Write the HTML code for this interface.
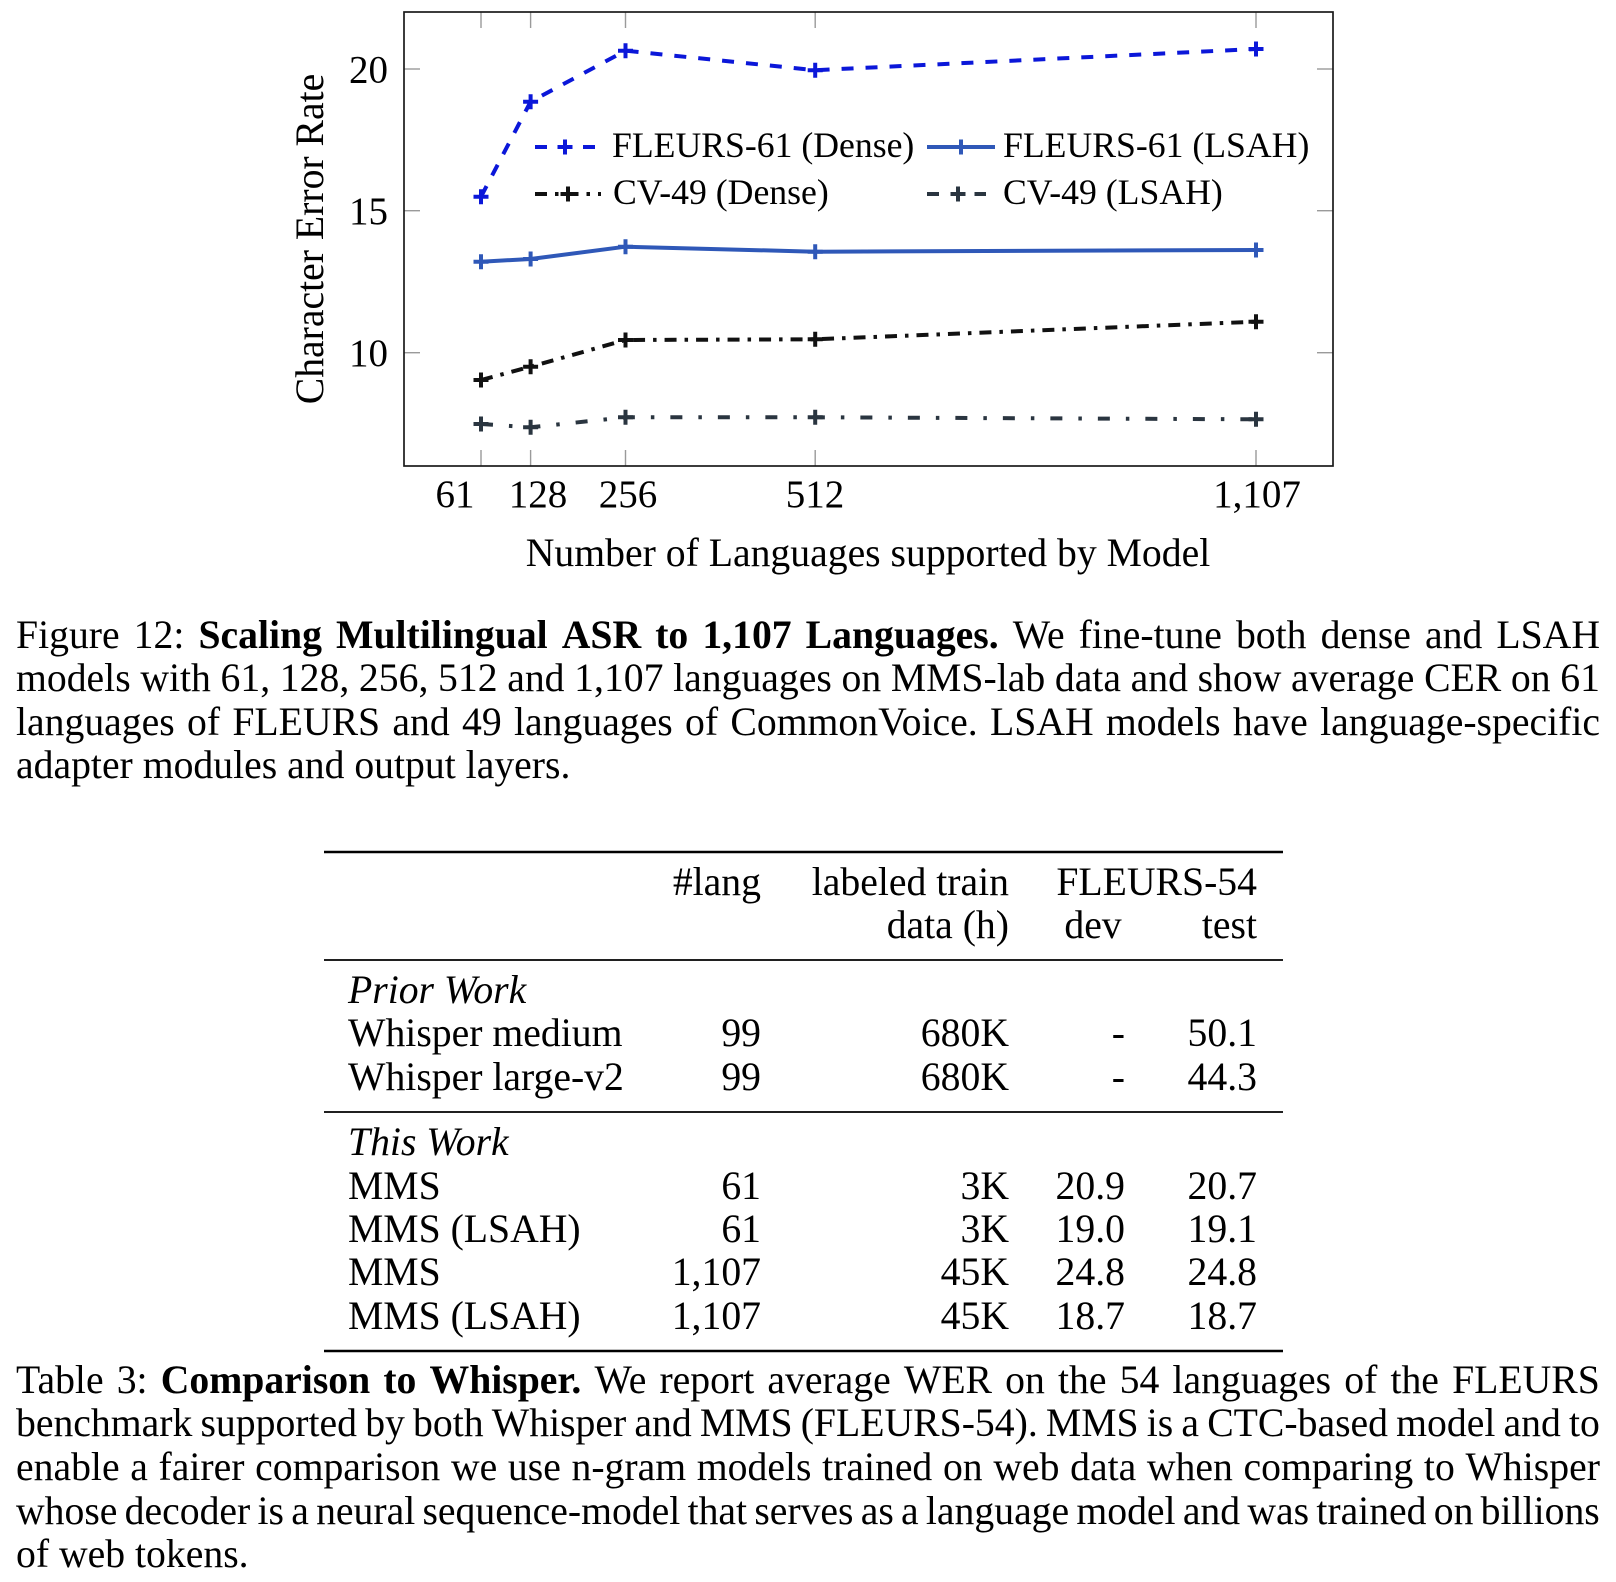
<!DOCTYPE html>
<html><head><meta charset="utf-8">
<style>
html,body{margin:0;padding:0;background:#fff;}
body{width:1616px;height:1582px;position:relative;overflow:hidden;font-family:"Liberation Serif","Times New Roman",serif;color:#000;}
svg{position:absolute;left:0;top:0;}
.j{position:absolute;left:16px;width:1584px;display:flex;justify-content:space-between;font-size:39.7px;line-height:43.6px;white-space:nowrap;}
.j b{font-weight:bold;}
.n{position:absolute;left:16px;font-size:39.7px;line-height:43.6px;white-space:nowrap;}
</style></head>
<body>
<svg width="1616" height="1582" viewBox="0 0 1616 1582" xmlns="http://www.w3.org/2000/svg" font-family="Liberation Serif, Times New Roman, serif">
  <!-- ticks -->
  <g stroke="#9a9a9a" stroke-width="1.4">
    <line x1="481" y1="466" x2="481" y2="450"/><line x1="481" y1="12" x2="481" y2="28"/>
    <line x1="530.6" y1="466" x2="530.6" y2="450"/><line x1="530.6" y1="12" x2="530.6" y2="28"/>
    <line x1="625.5" y1="466" x2="625.5" y2="450"/><line x1="625.5" y1="12" x2="625.5" y2="28"/>
    <line x1="815.2" y1="466" x2="815.2" y2="450"/><line x1="815.2" y1="12" x2="815.2" y2="28"/>
    <line x1="1256" y1="466" x2="1256" y2="450"/><line x1="1256" y1="12" x2="1256" y2="28"/>
    <line x1="404" y1="69" x2="420" y2="69"/><line x1="1333" y1="69" x2="1317" y2="69"/>
    <line x1="404" y1="210.7" x2="420" y2="210.7"/><line x1="1333" y1="210.7" x2="1317" y2="210.7"/>
    <line x1="404" y1="352.7" x2="420" y2="352.7"/><line x1="1333" y1="352.7" x2="1317" y2="352.7"/>
  </g>
  <!-- series -->
  <g fill="none" stroke-width="4" stroke-linejoin="round">
    <polyline stroke="#0b17d9" stroke-dasharray="12 12" points="481,196.7 530.6,101.7 625.5,50.7 815.2,70.2 1256,49"/>
    <polyline stroke="#2f58b8" points="481,261.7 530.6,259 625.5,246.7 815.2,251.7 1256,250"/>
    <polyline stroke="#111" stroke-dasharray="12 8 3.5 8" points="481,380 530.6,366.7 625.5,340 815.2,339.3 1256,321.7"/>
    <polyline stroke="#2a3540" stroke-dasharray="12 16 3.5 16" points="481,424 530.6,427.3 625.5,417.3 815.2,417.3 1256,419.3"/>
  </g>
  <!-- markers -->
  <g stroke-width="4" fill="none">
    <path stroke="#0b17d9" d="M473.5,196.7h15M481,189.2v15 M523.1,101.7h15M530.6,94.2v15 M618,50.7h15M625.5,43.2v15 M807.7,70.2h15M815.2,62.7v15 M1248.5,49h15M1256,41.5v15"/>
    <path stroke="#2f58b8" d="M473.5,261.7h15M481,254.2v15 M523.1,259h15M530.6,251.5v15 M618,246.7h15M625.5,239.2v15 M807.7,251.7h15M815.2,244.2v15 M1248.5,250h15M1256,242.5v15"/>
    <path stroke="#111" d="M473.5,380h15M481,372.5v15 M523.1,366.7h15M530.6,359.2v15 M618,340h15M625.5,332.5v15 M807.7,339.3h15M815.2,331.8v15 M1248.5,321.7h15M1256,314.2v15"/>
    <path stroke="#2a3540" d="M473.5,424h15M481,416.5v15 M523.1,427.3h15M530.6,419.8v15 M618,417.3h15M625.5,409.8v15 M807.7,417.3h15M815.2,409.8v15 M1248.5,419.3h15M1256,411.8v15"/>
  </g>
  <!-- legend -->
  <g fill="none" stroke-width="4">
    <line x1="535" y1="147" x2="595" y2="147" stroke="#0b17d9" stroke-dasharray="12 12"/>
    <path stroke="#0b17d9" d="M557.5,147h15M565,139.5v15"/>
    <line x1="927" y1="147" x2="995" y2="147" stroke="#2f58b8"/>
    <path stroke="#2f58b8" d="M953.5,147h15M961,139.5v15"/>
    <line x1="535" y1="194" x2="601" y2="194" stroke="#111" stroke-dasharray="12 8 3.5 8"/>
    <path stroke="#111" d="M560.5,194h15M568,186.5v15"/>
    <line x1="927" y1="194" x2="986" y2="194" stroke="#2a3540" stroke-dasharray="12 16 3.5 16"/>
    <path stroke="#2a3540" d="M950.5,194h15M958,186.5v15"/>
  </g>
  <g font-size="35.7" fill="#000">
    <text x="612" y="157">FLEURS-61 (Dense)</text>
    <text x="1003" y="157">FLEURS-61 (LSAH)</text>
    <text x="613" y="204">CV-49 (Dense)</text>
    <text x="1003" y="204">CV-49 (LSAH)</text>
  </g>
  <!-- frame -->
  <rect x="404" y="12" width="929" height="454" fill="none" stroke="#1a1a1a" stroke-width="1.7"/>
  <!-- tick labels -->
  <g font-size="39" fill="#000">
    <text x="388" y="82.5" text-anchor="end">20</text>
    <text x="388" y="224.2" text-anchor="end">15</text>
    <text x="388" y="366.2" text-anchor="end">10</text>
    <text x="455" y="507" text-anchor="middle">61</text>
    <text x="538" y="507" text-anchor="middle">128</text>
    <text x="628" y="507" text-anchor="middle">256</text>
    <text x="815" y="507" text-anchor="middle">512</text>
    <text x="1257" y="507" text-anchor="middle">1,107</text>
  </g>
  <text x="868" y="566" font-size="39.7" text-anchor="middle">Number of Languages supported by Model</text>
  <text transform="translate(323,239) rotate(-90)" font-size="39.7" text-anchor="middle">Character Error Rate</text>

  <!-- table -->
  <g stroke="#000">
    <line x1="324" y1="852" x2="1283" y2="852" stroke-width="2.6"/>
    <line x1="324" y1="960" x2="1283" y2="960" stroke-width="1.7"/>
    <line x1="324" y1="1112" x2="1283" y2="1112" stroke-width="1.7"/>
    <line x1="324" y1="1351" x2="1283" y2="1351" stroke-width="2.6"/>
  </g>
  <g font-size="39.7" fill="#000">
    <text x="761" y="895" text-anchor="end">#lang</text>
    <text x="1009" y="895" text-anchor="end">labeled train</text>
    <text x="1257" y="895" text-anchor="end">FLEURS-54</text>
    <text x="1009" y="938" text-anchor="end">data (h)</text>
    <text x="1093" y="938" text-anchor="middle">dev</text>
    <text x="1257" y="938" text-anchor="end">test</text>

    <text x="348" y="1003" font-style="italic">Prior Work</text>
    <text x="348" y="1046">Whisper medium</text>
    <text x="761" y="1046" text-anchor="end">99</text>
    <text x="1009" y="1046" text-anchor="end">680K</text>
    <text x="1125" y="1046" text-anchor="end">-</text>
    <text x="1257" y="1046" text-anchor="end">50.1</text>
    <text x="348" y="1090">Whisper large-v2</text>
    <text x="761" y="1090" text-anchor="end">99</text>
    <text x="1009" y="1090" text-anchor="end">680K</text>
    <text x="1125" y="1090" text-anchor="end">-</text>
    <text x="1257" y="1090" text-anchor="end">44.3</text>

    <text x="348" y="1155" font-style="italic">This Work</text>
    <text x="348" y="1199">MMS</text>
    <text x="761" y="1199" text-anchor="end">61</text>
    <text x="1009" y="1199" text-anchor="end">3K</text>
    <text x="1125" y="1199" text-anchor="end">20.9</text>
    <text x="1257" y="1199" text-anchor="end">20.7</text>
    <text x="348" y="1242">MMS (LSAH)</text>
    <text x="761" y="1242" text-anchor="end">61</text>
    <text x="1009" y="1242" text-anchor="end">3K</text>
    <text x="1125" y="1242" text-anchor="end">19.0</text>
    <text x="1257" y="1242" text-anchor="end">19.1</text>
    <text x="348" y="1285">MMS</text>
    <text x="761" y="1285" text-anchor="end">1,107</text>
    <text x="1009" y="1285" text-anchor="end">45K</text>
    <text x="1125" y="1285" text-anchor="end">24.8</text>
    <text x="1257" y="1285" text-anchor="end">24.8</text>
    <text x="348" y="1329">MMS (LSAH)</text>
    <text x="761" y="1329" text-anchor="end">1,107</text>
    <text x="1009" y="1329" text-anchor="end">45K</text>
    <text x="1125" y="1329" text-anchor="end">18.7</text>
    <text x="1257" y="1329" text-anchor="end">18.7</text>
  </g>
</svg>

<!-- Figure caption -->
<div class="j" style="top:613.8px"><span>Figure</span><span>12:</span><b>Scaling</b><b>Multilingual</b><b>ASR</b><b>to</b><b>1,107</b><b>Languages.</b><span>We</span><span>fine-tune</span><span>both</span><span>dense</span><span>and</span><span>LSAH</span></div>
<div class="j" style="top:657.3px"><span>models</span><span>with</span><span>61,</span><span>128,</span><span>256,</span><span>512</span><span>and</span><span>1,107</span><span>languages</span><span>on</span><span>MMS-lab</span><span>data</span><span>and</span><span>show</span><span>average</span><span>CER</span><span>on</span><span>61</span></div>
<div class="j" style="top:700.8px"><span>languages</span><span>of</span><span>FLEURS</span><span>and</span><span>49</span><span>languages</span><span>of</span><span>CommonVoice.</span><span>LSAH</span><span>models</span><span>have</span><span>language-specific</span></div>
<div class="n" style="top:744.3px">adapter modules and output layers.</div>

<!-- Table caption -->
<div class="j" style="top:1358.8px"><span>Table</span><span>3:</span><b>Comparison</b><b>to</b><b>Whisper.</b><span>We</span><span>report</span><span>average</span><span>WER</span><span>on</span><span>the</span><span>54</span><span>languages</span><span>of</span><span>the</span><span>FLEURS</span></div>
<div class="j" style="top:1402.4px"><span>benchmark</span><span>supported</span><span>by</span><span>both</span><span>Whisper</span><span>and</span><span>MMS</span><span>(FLEURS-54).</span><span>MMS</span><span>is</span><span>a</span><span>CTC-based</span><span>model</span><span>and</span><span>to</span></div>
<div class="j" style="top:1446px"><span>enable</span><span>a</span><span>fairer</span><span>comparison</span><span>we</span><span>use</span><span>n-gram</span><span>models</span><span>trained</span><span>on</span><span>web</span><span>data</span><span>when</span><span>comparing</span><span>to</span><span>Whisper</span></div>
<div class="j" style="top:1489.6px"><span>whose</span><span>decoder</span><span>is</span><span>a</span><span>neural</span><span>sequence-model</span><span>that</span><span>serves</span><span>as</span><span>a</span><span>language</span><span>model</span><span>and</span><span>was</span><span>trained</span><span>on</span><span>billions</span></div>
<div class="n" style="top:1533.2px">of web tokens.</div>
</body></html>
